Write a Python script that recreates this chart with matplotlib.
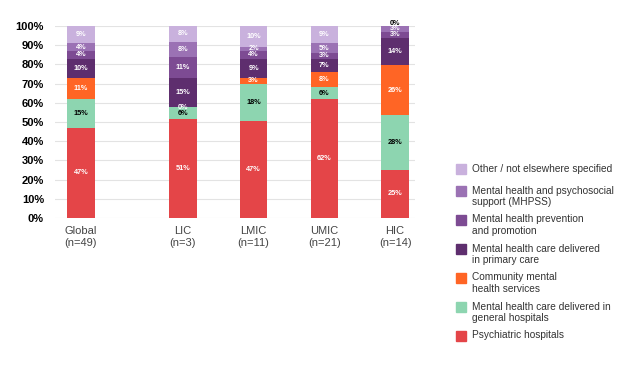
import matplotlib.pyplot as plt
from matplotlib.patches import Rectangle
import numpy as np

plt.rcParams['font.family'] = ['Liberation Sans', 'DejaVu Sans']

# income groups and their x positions (gap after Global)
groups = ['Global\n(n=49)', 'LIC\n(n=3)', 'LMIC\n(n=11)', 'UMIC\n(n=21)', 'HIC\n(n=14)']
xpos = [0, 1.44, 2.44, 3.44, 4.44]

# categories, bottom to top of the stack
cats = ['Psychiatric hospitals',
        'Mental health care delivered in\ngeneral hospitals',
        'Community mental\nhealth services',
        'Mental health care delivered\nin primary care',
        'Mental health prevention\nand promotion',
        'Mental health and psychosocial\nsupport (MHPSS)',
        'Other / not elsewhere specified']
colors = ['#E44548', '#8DD5B0', '#FF6525', '#5E2E6E', '#7D4B93', '#9B72B4', '#C9B1DD']
text_colors = ['white', 'black', 'white', 'white', 'white', 'white', 'white']

# percent per group (same order as groups)
psych = [47, 51, 47, 62, 25]
general = [15, 6, 18, 6, 28]
community = [11, 0, 3, 8, 26]
primary = [10, 15, 9, 7, 14]
prevention = [4, 11, 4, 3, 3]
mhpss = [4, 8, 2, 5, 3]
other = [9, 8, 10, 9, 0]

data = np.array([psych, general, community, primary, prevention, mhpss, other], dtype=float)
# 100% stacked
shares = data / data.sum(axis=0) * 100

fig = plt.figure(figsize=(6.27, 3.74), dpi=100)
ax = fig.add_axes([55/627, 1-218/374, 360/627, 192/374])

bottom = np.zeros(len(groups))
for i in range(len(cats)):
    ax.bar(xpos, shares[i], bottom=bottom, width=0.39, color=colors[i], zorder=3)
    for j in range(len(groups)):
        ypos = bottom[j] + shares[i][j] / 2
        tc = text_colors[i]
        if shares[i][j] == 0 and i == len(cats) - 1:
            ypos = 101.5
            tc = 'black'
        ax.text(xpos[j], ypos, '%d%%' % data[i][j], ha='center', va='center',
                fontsize=5.3, fontweight='bold', color=tc, zorder=4, clip_on=False)
    bottom += shares[i]

ax.set_ylim(0, 100)
ax.set_xlim(-0.366, 4.72)
ax.set_yticks(range(0, 101, 10))
ax.set_yticklabels(['%d%%' % v for v in range(0, 101, 10)], fontsize=8, fontweight='bold')
ax.set_xticks(xpos)
ax.set_xticklabels(groups, fontsize=8, color='#444444', linespacing=1.25)
ax.tick_params(length=0)
ax.tick_params(axis='y', pad=8)
ax.tick_params(axis='x', pad=6)
ax.grid(axis='y', color='#E3E3E3', linewidth=0.8, zorder=0)
for s in ax.spines.values():
    s.set_visible(False)

# legend drawn by hand, top entry is the top of the stack
leg_y = [169, 191, 220, 249, 278, 307, 336]
for k, i in enumerate(reversed(range(len(cats)))):
    yc = 1 - leg_y[k] / 374
    fig.patches.append(Rectangle((456/627, yc - 5/374), 10/627, 10/374,
                                 transform=fig.transFigure, color=colors[i]))
    fig.text(472/627, yc + 5.5/374, cats[i], fontsize=7.3, color='#333333',
             va='top', ha='left', linespacing=1.18)

fig.savefig('out.png', dpi=100)
